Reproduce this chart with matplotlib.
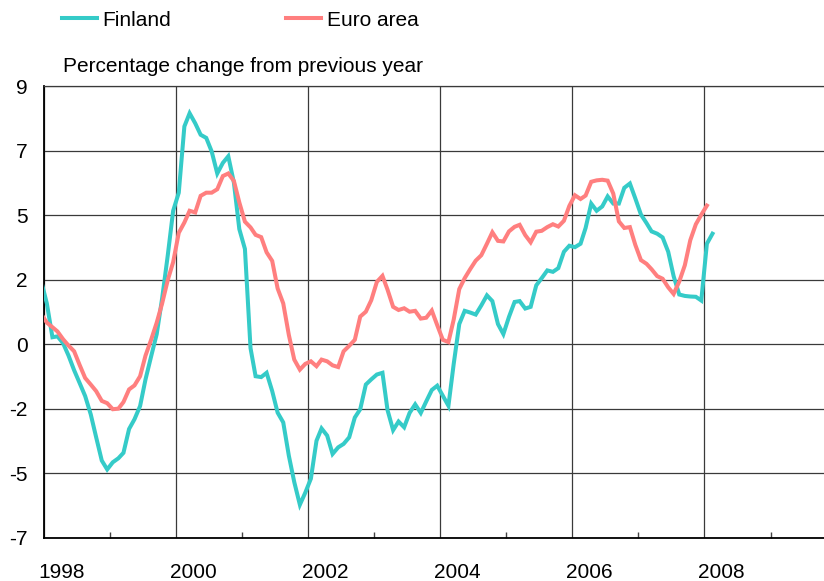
import numpy as np
import pandas as pd
import matplotlib
matplotlib.use("Agg")
import matplotlib.pyplot as plt
import matplotlib.dates as mdates
from matplotlib.transforms import ScaledTranslation

plt.rcParams["font.family"] = ["Liberation Sans", "DejaVu Sans"]

# Monthly inflation, % change from previous year (Dec 1997 onwards)
finland = [
    2.2, 1.42, 0.24, 0.27, 0.03, -0.4, -0.91, -1.35, -1.81, -2.45, -3.25, -4.06, -4.37,
    -4.12, -3.98, -3.79, -2.96, -2.62, -2.16, -1.23, -0.43, 0.35, 1.6, 3.09, 4.65,
    5.28, 7.59, 8.05, 7.7, 7.3, 7.19, 6.72, 5.95, 6.32, 6.55, 5.63, 4.01,
    3.32, -0.14, -1.12, -1.15, -1.0, -1.64, -2.39, -2.73, -3.89, -4.81, -5.6, -5.18,
    -4.69, -3.37, -2.94, -3.19, -3.83, -3.6, -3.48, -3.25, -2.56, -2.27, -1.41, -1.23,
    -1.06, -1.0, -2.3, -3.0, -2.7, -2.9, -2.4, -2.1, -2.4, -2.0, -1.6, -1.45,
    -1.8, -2.15, -0.7, 0.7, 1.16, 1.1, 1.03, 1.35, 1.7, 1.5, 0.7, 0.35,
    0.95, 1.47, 1.5, 1.24, 1.3, 2.05, 2.3, 2.57, 2.52, 2.65, 3.22, 3.43,
    3.38, 3.5, 4.05, 4.9, 4.65, 4.8, 5.15, 4.9, 4.9, 5.45, 5.6, 5.08,
    4.52, 4.22, 3.93, 3.85, 3.72, 3.22, 2.37, 1.73, 1.68, 1.66, 1.65, 1.52,
    3.5, 3.85,
]
euro_area = [
    1.05, 0.75, 0.59, 0.44, 0.17, -0.05, -0.25, -0.72, -1.18, -1.41, -1.64, -1.98, -2.06,
    -2.27, -2.25, -2.02, -1.58, -1.44, -1.12, -0.4, 0.15, 0.75, 1.42, 2.23, 2.86,
    3.88, 4.24, 4.65, 4.59, 5.17, 5.28, 5.28, 5.4, 5.86, 5.95, 5.69, 4.94,
    4.27, 4.07, 3.81, 3.73, 3.2, 2.9, 1.94, 1.42, 0.32, -0.54, -0.89, -0.69,
    -0.6, -0.77, -0.54, -0.6, -0.74, -0.8, -0.25, -0.06, 0.15, 0.96, 1.13, 1.53,
    2.17, 2.38, 1.9, 1.3, 1.19, 1.25, 1.13, 1.16, 0.89, 0.92, 1.17, 0.66,
    0.15, 0.07, 0.85, 1.92, 2.3, 2.62, 2.91, 3.1, 3.5, 3.9, 3.6, 3.58,
    3.93, 4.09, 4.16, 3.8, 3.55, 3.92, 3.95, 4.08, 4.18, 4.1, 4.3, 4.82,
    5.19, 5.06, 5.18, 5.66, 5.71, 5.73, 5.7, 5.25, 4.28, 4.05, 4.08, 3.46,
    2.93, 2.8, 2.61, 2.37, 2.28, 1.98, 1.75, 2.18, 2.75, 3.62, 4.18, 4.51,
    4.83,
]

series_names = ["Finland", "Euro area"]
series_colors = ["#35CBC8", "#FF7F7F"]

ytick_values = [-6.75, -4.5, -2.25, 0, 2.25, 4.5, 6.75, 9]
ytick_labels = ["-7", "-5", "-2", "0", "2", "5", "7", "9"]
year_labels = ["1998", "2000", "2002", "2004", "2006", "2008"]


def month_dates(n):
    # mid-month dates starting December 1997
    return pd.date_range("1997-12-01", periods=n, freq="MS") + pd.Timedelta(days=14)


fig = plt.figure(figsize=(8.24, 5.81), dpi=100)
ax = fig.add_axes([44.3 / 824, 1 - 537.7 / 581, 1 - 44.3 / 824, (537.7 - 86) / 581])

lines = []
for vals, name, col in zip([finland, euro_area], series_names, series_colors):
    ln, = ax.plot(month_dates(len(vals)), vals, color=col, lw=2.9, label=name,
                  solid_joinstyle="miter", zorder=3)
    lines.append(ln)

ax.set_ylim(-6.75, 9)
ax.set_yticks(ytick_values)
ax.set_yticklabels(ytick_labels)
ax.tick_params(axis="y", length=0, pad=12, labelsize=15)

ax.set_xlim(pd.Timestamp("1998-01-01"), pd.Timestamp("2009-10-24"))
ax.xaxis.set_major_locator(mdates.YearLocator(2))
ax.xaxis.set_minor_locator(mdates.YearLocator(1))
ax.set_xticklabels(year_labels)
ax.tick_params(axis="x", which="major", length=0, pad=18, labelsize=15)
ax.tick_params(axis="x", which="minor", direction="in", length=4, width=1, color="#444444")
shift = ScaledTranslation(0.17, 0, fig.dpi_scale_trans)
for lab in ax.get_xticklabels():
    lab.set_transform(lab.get_transform() + shift)

ax.grid(True, which="major", color="#3a3a3a", lw=0.9)
ax.spines["right"].set_visible(False)
ax.spines["top"].set_color("#3a3a3a")
ax.spines["top"].set_linewidth(0.9)
for side in ["left", "bottom"]:
    ax.spines[side].set_color("black")
    ax.spines[side].set_linewidth(1.3)

fig.text(63 / 824, 1 - 67 / 581, "Percentage change from previous year",
         fontsize=15, va="center", ha="left")

fig.legend(handles=lines, loc="center left", bbox_to_anchor=(62 / 824, 1 - 20 / 581),
           ncol=2, frameon=False, fontsize=15, handlelength=1.7, handletextpad=0.25,
           columnspacing=5.5, borderaxespad=0, borderpad=0)

fig.savefig("out.png", dpi=100)
